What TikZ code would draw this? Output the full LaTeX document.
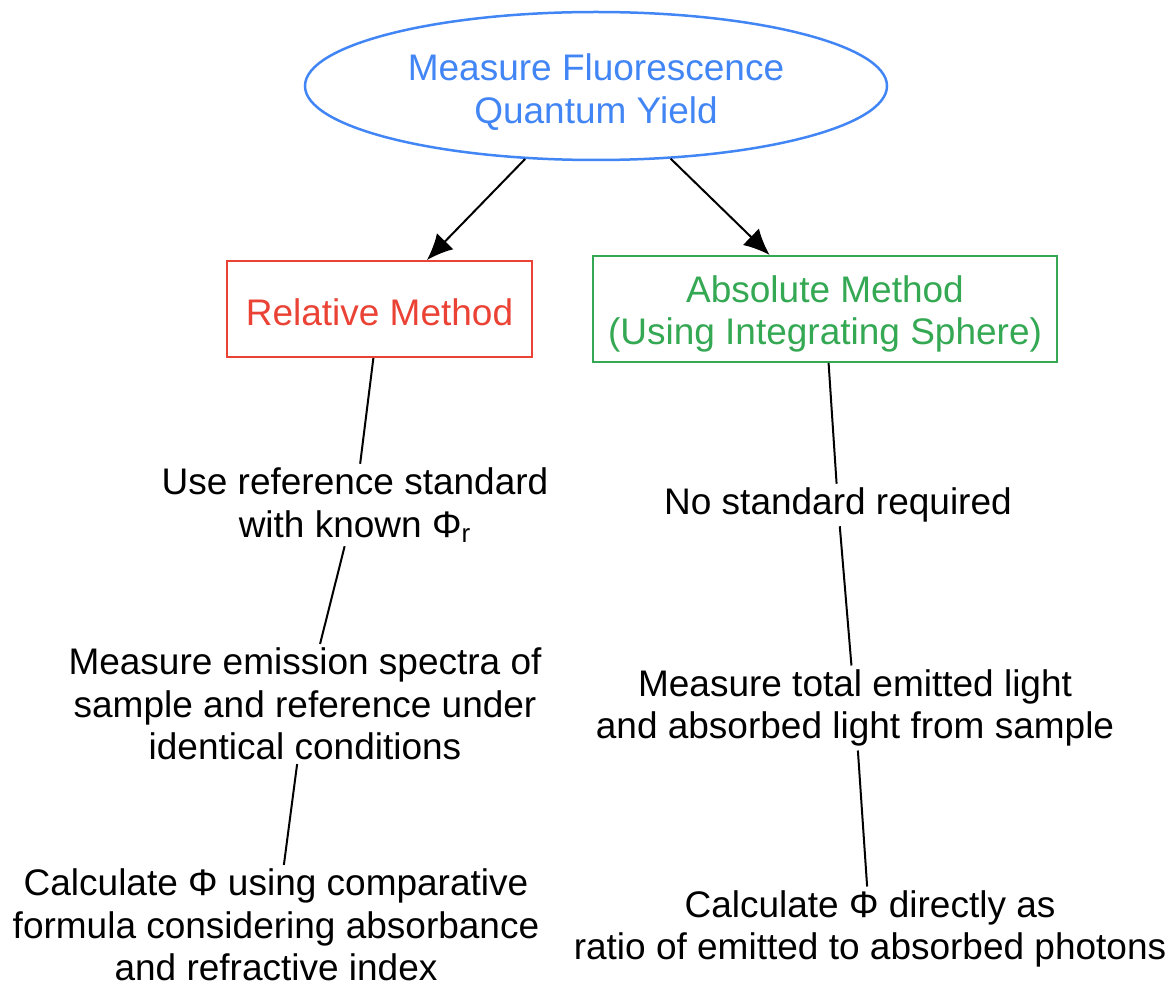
\documentclass[tikz,border=0pt]{standalone}
\usepackage{fontspec}
\setmainfont{Liberation Sans}
\usetikzlibrary{shapes.geometric,arrows.meta}
\definecolor{qyblue}{HTML}{4285F4}
\definecolor{qyred}{HTML}{EA4335}
\definecolor{qygreen}{HTML}{34A853}
\tikzset{
	txt/.style={align=center, inner sep=1.5pt, font=\fontsize{18.5}{21.25}\selectfont},
	>={Latex[length=13pt,width=11.5pt]}
}
\begin{document}
\begin{tikzpicture}[x=0.5pt, y=-0.5pt, line width=1pt]
		\useasboundingbox (0,0) rectangle (1172,984);
		\node (G) at (596,86) [txt, ellipse, draw=qyblue, text=qyblue, line width=1.25pt, minimum width=291pt, minimum height=74pt] {\rule{0pt}{19.5pt}Measure Fluorescence\\Quantum Yield};
		\node (R1) at (379.5,309) [txt, draw=qyred, text=qyred, minimum width=152.5pt, minimum height=48pt] {\rule{0pt}{16.5pt}Relative Method};
		\node (A1) at (825,309) [txt, draw=qygreen, text=qygreen, minimum width=232pt, minimum height=53pt] {\rule{0pt}{18.5pt}Absolute Method\\(Using Integrating Sphere)};
		
		\node (R2) at (355,505) [txt] {Use reference standard\\with known Φ\textsubscript{r}};
		\node (R3) at (305,704) [txt] {Measure emission spectra of\\sample and reference under\\identical conditions};
		\node (R4) at (276,925) [txt] {Calculate Φ using comparative\\formula considering absorbance\\and refractive index};
		
		\node (A2) at (838,505) [txt] {No standard required};
		\node (A3) at (855,708) [txt] {Measure total emitted light\\and absorbed light from sample};
		\node (A4) at (870,929) [txt] {Calculate Φ directly as\\ratio of emitted to absorbed photons};
		
		\draw [->] (G) -> (R1);
		\draw [->] (G) -> (A1);
		\draw (R1) -- (R2);
		\draw (R2) -- (R3);
		\draw (R3) -- (R4);
		\draw (A1) -- (A2);
		\draw (A2) -- (A3);
		\draw (A3) -- (A4);
		\end{tikzpicture}
\end{document}
